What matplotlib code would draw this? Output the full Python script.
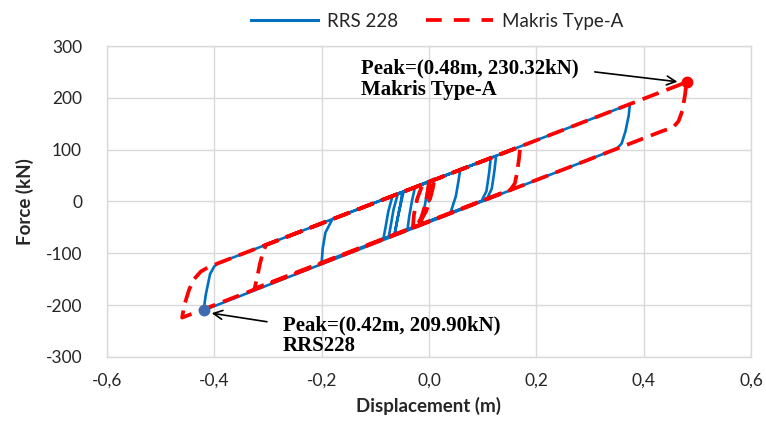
import matplotlib
matplotlib.use("Agg")
import matplotlib.pyplot as plt
from matplotlib.lines import Line2D

# ---- data: hysteresis paths (displacement in m, force in kN) ----
rrs_disp = [0.000, 0.004, 0.010, 0.058, 0.055, 0.050, 0.040, -0.085, -0.081, -0.076,
            -0.068, 0.125, 0.122, 0.117, 0.108, -0.075, -0.071, -0.066, -0.058, 0.115,
            0.112, 0.107, 0.098, -0.200, -0.198, -0.193, -0.180, 0.3745, 0.372, 0.366,
            0.359, 0.350, -0.4199, -0.416, -0.408, -0.400, -0.3925, -0.050, -0.053,
            -0.058, -0.064, -0.060, -0.055, -0.047, 0.000, -0.004, -0.009, -0.015,
            -0.040, -0.037, -0.032, -0.026, 0.010]
rrs_force = [0.0, 25.0, 42.0, 61.0, 40.0, 10.0, -22.0, -72.0, -50.0, -20.0,
             11.0, 88.0, 60.0, 25.0, 5.0, -68.0, -45.0, -15.0, 15.0, 84.0,
             55.0, 20.0, 1.0, -118.0, -90.0, -60.0, -34.0, 188.0, 165.0, 135.0,
             112.0, 102.0, -209.9, -180.0, -140.0, -125.0, -119.0, 18.0, -5.0,
             -30.0, -63.0, -40.0, -15.0, 20.0, 38.0, 15.0, -15.0, -44.0,
             -54.0, -30.0, 0.0, 28.0, 44.0]

makris_disp = [0.000, 0.003, 0.010, 0.007, 0.002, -0.005, -0.020, -0.030, -0.028,
               -0.022, -0.012, 0.170, 0.168, 0.164, 0.160, 0.152, -0.325, -0.321,
               -0.315, -0.310, -0.304, 0.48, 0.477, 0.472, 0.465, 0.455, 0.435,
               -0.460, -0.456, -0.447, -0.438, -0.425, -0.410, 0.000, -0.003,
               -0.008, -0.014, -0.022]
makris_force = [0.0, 25.0, 42.0, 25.0, 5.0, -18.0, -46.0, -50.0, -25.0,
                5.0, 33.0, 106.0, 85.0, 55.0, 35.0, 23.0, -168.0, -150.0,
                -120.0, -100.0, -84.0, 230.32, 205.0, 175.0, 155.0, 143.0, 136.0,
                -224.0, -200.0, -170.0, -150.0, -135.0, -126.0, 38.0, 15.0,
                -10.0, -30.0, -46.0]

rrs_peak = (-0.42, -209.90)
makris_peak = (0.48, 230.32)

series_names = ["RRS 228", "Makris Type-A"]
x_ticks = [-0.6, -0.4, -0.2, 0.0, 0.2, 0.4, 0.6]
x_tick_labels = ["-0,6", "-0,4", "-0,2", "0,0", "0,2", "0,4", "0,6"]
y_ticks = [-300, -200, -100, 0, 100, 200, 300]
y_tick_labels = ["-300", "-200", "-100", "0", "100", "200", "300"]

BLUE = "#0070C0"
RED = "#FF0000"
GRID = "#D9D9D9"
TEXT = "#262626"
SANS = ["Lato", "DejaVu Sans"]
SERIF = ["Liberation Serif", "DejaVu Serif"]

fig = plt.figure(figsize=(7.66, 4.26), dpi=100)
ax = fig.add_axes([0.1397, 0.162, 0.8407, 0.730])

ax.plot(rrs_disp, rrs_force, color=BLUE, lw=1.9, solid_joinstyle="round",
        solid_capstyle="round", zorder=3)
ax.plot(makris_disp, makris_force, color=RED, lw=2.7, linestyle=(0, (4.6, 2.2)),
        dash_capstyle="butt", zorder=4)

ax.plot([rrs_peak[0]], [rrs_peak[1]], "o", color="#3E6BB0", ms=7.5, zorder=5)
ax.plot([makris_peak[0]], [makris_peak[1]], "o", color=RED, ms=7.5, zorder=5)

ax.set_xlim(-0.6, 0.6)
ax.set_ylim(-300, 300)
ax.set_xticks(x_ticks)
ax.set_xticklabels(x_tick_labels)
ax.set_yticks(y_ticks)
ax.set_yticklabels(y_tick_labels)
ax.tick_params(length=0, labelsize=12.5, colors=TEXT)
ax.tick_params(axis="y", pad=18)
ax.tick_params(axis="x", pad=11)
for lbl in ax.get_xticklabels() + ax.get_yticklabels():
    lbl.set_family(SANS)

ax.grid(True, color=GRID, lw=1.0)
ax.set_axisbelow(True)
for sp in ax.spines.values():
    sp.set_color(GRID)
    sp.set_linewidth(1.0)

ax.set_xlabel("Displacement (m)", fontsize=13.5, fontweight="bold", family=SANS,
              color=TEXT, labelpad=6)
ax.set_ylabel("Force (kN)", fontsize=13.5, fontweight="bold", family=SANS,
              color=TEXT, labelpad=8)

# peak annotations
ann_kw = dict(fontsize=15, fontweight="bold", family=SERIF, va="center",
              ha="left", linespacing=1.05, color="black")
arrow_kw = dict(arrowstyle="->", color="black", lw=1.2, shrinkA=0, shrinkB=0,
                mutation_scale=16)
ax.text(-0.127, 236, "Peak=(0.48m, 230.32kN)\nMakris Type-A", **ann_kw)
ax.annotate("", xy=(0.463, 231), xytext=(0.309, 250), arrowprops=arrow_kw)
ax.text(-0.272, -259, "Peak=(0.42m, 209.90kN)\nRRS228", **ann_kw)
ax.annotate("", xy=(-0.405, -215.5), xytext=(-0.302, -232), arrowprops=arrow_kw)

handles = [Line2D([], [], color=BLUE, lw=2.2),
           Line2D([], [], color=RED, lw=2.7, linestyle=(0, (4.2, 3.2)))]
fig.legend(handles, series_names, loc="center", bbox_to_anchor=(0.5705, 0.950),
           ncol=2, frameon=False, prop={"family": SANS, "size": 13.5},
           handlelength=3.6, columnspacing=1.5, handletextpad=0.45,
           labelcolor=TEXT)

fig.savefig("out.png", dpi=100)
